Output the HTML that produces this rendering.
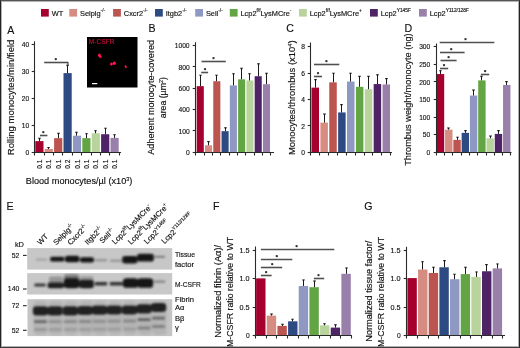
<!DOCTYPE html>
<html><head><meta charset="utf-8"><style>
html,body{margin:0;padding:0;background:#fff;width:520px;height:348px;overflow:hidden}
text{stroke:#111;stroke-width:0.15px}
text.red{stroke:#c8103c;stroke-width:0.1px}
.frame{position:absolute;left:0;top:0;width:518px;height:346px;border:1px solid #222;border-top-color:#555;border-bottom-color:#3a3a3a;box-shadow:inset 0 0 0 1px rgba(0,0,0,0.3);pointer-events:none}
</style></head><body>
<svg width="520" height="348" viewBox="0 0 520 348" style="display:block;will-change:transform" font-family='"Liberation Sans", sans-serif'><defs><filter id="bl" x="-50%" y="-50%" width="200%" height="200%"><feGaussianBlur stdDeviation="0.9"/></filter><filter id="bl2" x="-50%" y="-50%" width="200%" height="200%"><feGaussianBlur stdDeviation="0.5"/></filter></defs><rect x="0" y="0" width="520" height="348" fill="#fff"/><rect x="41" y="9" width="7.8" height="7.6" fill="#a5002e"/><text x="51.7" y="15.7" font-size="7.4" fill="#111">WT<tspan dy="-3.6" font-size="4.8"></tspan></text><rect x="69.3" y="9" width="7.8" height="7.6" fill="#d68c80"/><text x="80" y="15.7" font-size="7.4" fill="#111">Selplg<tspan dy="-3.6" font-size="4.8">-/-</tspan></text><rect x="113.1" y="9" width="7.8" height="7.6" fill="#bc5450"/><text x="123.8" y="15.7" font-size="7.4" fill="#111">Cxcr2<tspan dy="-3.6" font-size="4.8">-/-</tspan></text><rect x="155" y="9" width="7.8" height="7.6" fill="#2d4a82"/><text x="165.7" y="15.7" font-size="7.4" fill="#111">Itgb2<tspan dy="-3.6" font-size="4.8">-/-</tspan></text><rect x="195.2" y="9" width="7.8" height="7.6" fill="#8f98c2"/><text x="205.9" y="15.7" font-size="7.4" fill="#111">Sell<tspan dy="-3.6" font-size="4.8">-/-</tspan></text><rect x="229.8" y="9" width="7.8" height="7.6" fill="#63a544"/><text x="240.5" y="15.7" font-size="7.4" fill="#111">Lcp2<tspan dy="-3.6" font-size="4.8">f/f</tspan><tspan dy="3.6" font-size="7.4">LysMCre</tspan><tspan dy="-3.6" font-size="4.8">-</tspan></text><rect x="299" y="9" width="7.8" height="7.6" fill="#b8d49c"/><text x="309.7" y="15.7" font-size="7.4" fill="#111">Lcp2<tspan dy="-3.6" font-size="4.8">f/f</tspan><tspan dy="3.6" font-size="7.4">LysMCre</tspan><tspan dy="-3.6" font-size="4.8">+</tspan></text><rect x="370" y="9" width="7.8" height="7.6" fill="#4f2466"/><text x="380.7" y="15.7" font-size="7.4" fill="#111">Lcp2<tspan dy="-3.6" font-size="4.8">Y145F</tspan></text><rect x="419" y="9" width="7.8" height="7.6" fill="#9980ab"/><text x="429.7" y="15.7" font-size="7.4" fill="#111">Lcp2<tspan dy="-3.6" font-size="4.8">Y112/128F</tspan></text><text x="7.2" y="33.8" font-size="10.6" text-anchor="start" fill="#111" >A</text><text x="148.6" y="31.6" font-size="10.6" text-anchor="start" fill="#111" >B</text><text x="286.2" y="32.4" font-size="10.6" text-anchor="start" fill="#111" >C</text><text x="404.6" y="32.4" font-size="10.6" text-anchor="start" fill="#111" >D</text><text x="6.6" y="209.7" font-size="10.6" text-anchor="start" fill="#111" >E</text><text x="213" y="209.7" font-size="10.6" text-anchor="start" fill="#111" >F</text><text x="364.2" y="209.8" font-size="10.6" text-anchor="start" fill="#111" >G</text><rect x="35.3" y="141.12" width="8.2" height="11.38" fill="#a5002e"/><line x1="39.5" y1="141.12" x2="39.5" y2="138.14" stroke="#1a1a1a" stroke-width="1"/><path d="M38 137.74H41L40.2 139.14H38.8Z" fill="#1a1a1a"/><rect x="44.7" y="148.98" width="8.2" height="3.52" fill="#d68c80"/><line x1="48.5" y1="148.98" x2="48.5" y2="147.35" stroke="#1a1a1a" stroke-width="1"/><path d="M47 146.95H50L49.2 148.35H47.8Z" fill="#1a1a1a"/><rect x="54.1" y="138.14" width="8.2" height="14.36" fill="#bc5450"/><line x1="58.5" y1="138.14" x2="58.5" y2="133.26" stroke="#1a1a1a" stroke-width="1"/><path d="M57 132.86H60L59.2 134.26H57.8Z" fill="#1a1a1a"/><rect x="63.5" y="73.1" width="8.2" height="79.4" fill="#2d4a82"/><line x1="67.5" y1="73.1" x2="67.5" y2="65.24" stroke="#1a1a1a" stroke-width="1"/><path d="M66 64.84H69L68.2 66.24H66.8Z" fill="#1a1a1a"/><rect x="72.9" y="135.7" width="8.2" height="16.8" fill="#8f98c2"/><line x1="76.5" y1="135.7" x2="76.5" y2="132.18" stroke="#1a1a1a" stroke-width="1"/><path d="M75 131.78H78L77.2 133.18H75.8Z" fill="#1a1a1a"/><rect x="82.3" y="138.14" width="8.2" height="14.36" fill="#63a544"/><line x1="86.5" y1="138.14" x2="86.5" y2="133.53" stroke="#1a1a1a" stroke-width="1"/><path d="M85 133.13H88L87.2 134.53H85.8Z" fill="#1a1a1a"/><rect x="91.7" y="133.26" width="8.2" height="19.24" fill="#b8d49c"/><line x1="95.5" y1="133.26" x2="95.5" y2="130.55" stroke="#1a1a1a" stroke-width="1"/><path d="M94 130.15H97L96.2 131.55H94.8Z" fill="#1a1a1a"/><rect x="101.1" y="134.21" width="8.2" height="18.29" fill="#4f2466"/><line x1="105.5" y1="134.21" x2="105.5" y2="128.11" stroke="#1a1a1a" stroke-width="1"/><path d="M104 127.71H107L106.2 129.11H104.8Z" fill="#1a1a1a"/><rect x="110.5" y="137.87" width="8.2" height="14.63" fill="#9980ab"/><line x1="114.5" y1="137.87" x2="114.5" y2="134.61" stroke="#1a1a1a" stroke-width="1"/><path d="M113 134.21H116L115.2 135.61H113.8Z" fill="#1a1a1a"/><line x1="34.5" y1="41.3" x2="34.5" y2="153" stroke="#2a2a2a" stroke-width="1.1"/><line x1="34" y1="152.5" x2="121" y2="152.5" stroke="#2a2a2a" stroke-width="1.1"/><line x1="31.7" y1="152.5" x2="34.5" y2="152.5" stroke="#2a2a2a" stroke-width="1.1"/><text x="29.2" y="155.2" font-size="7.6" text-anchor="end" fill="#111" textLength="3.72" lengthAdjust="spacingAndGlyphs" >0</text><line x1="31.7" y1="125.5" x2="34.5" y2="125.5" stroke="#2a2a2a" stroke-width="1.1"/><text x="29.2" y="128.1" font-size="7.6" text-anchor="end" fill="#111" textLength="7.44" lengthAdjust="spacingAndGlyphs" >10</text><line x1="31.7" y1="98.5" x2="34.5" y2="98.5" stroke="#2a2a2a" stroke-width="1.1"/><text x="29.2" y="101" font-size="7.6" text-anchor="end" fill="#111" textLength="7.44" lengthAdjust="spacingAndGlyphs" >20</text><line x1="31.7" y1="71.5" x2="34.5" y2="71.5" stroke="#2a2a2a" stroke-width="1.1"/><text x="29.2" y="73.9" font-size="7.6" text-anchor="end" fill="#111" textLength="7.44" lengthAdjust="spacingAndGlyphs" >30</text><line x1="31.7" y1="44.5" x2="34.5" y2="44.5" stroke="#2a2a2a" stroke-width="1.1"/><text x="29.2" y="46.8" font-size="7.6" text-anchor="end" fill="#111" textLength="7.44" lengthAdjust="spacingAndGlyphs" >40</text><line x1="34.5" y1="152.5" x2="34.5" y2="155.5" stroke="#2a2a2a" stroke-width="1.1"/><line x1="44.5" y1="152.5" x2="44.5" y2="155.5" stroke="#2a2a2a" stroke-width="1.1"/><line x1="53.5" y1="152.5" x2="53.5" y2="155.5" stroke="#2a2a2a" stroke-width="1.1"/><line x1="62.5" y1="152.5" x2="62.5" y2="155.5" stroke="#2a2a2a" stroke-width="1.1"/><line x1="72.5" y1="152.5" x2="72.5" y2="155.5" stroke="#2a2a2a" stroke-width="1.1"/><line x1="81.5" y1="152.5" x2="81.5" y2="155.5" stroke="#2a2a2a" stroke-width="1.1"/><line x1="91.5" y1="152.5" x2="91.5" y2="155.5" stroke="#2a2a2a" stroke-width="1.1"/><line x1="100.5" y1="152.5" x2="100.5" y2="155.5" stroke="#2a2a2a" stroke-width="1.1"/><line x1="109.5" y1="152.5" x2="109.5" y2="155.5" stroke="#2a2a2a" stroke-width="1.1"/><line x1="119.5" y1="152.5" x2="119.5" y2="155.5" stroke="#2a2a2a" stroke-width="1.1"/><text x="13.6" y="97.4" font-size="8.2" text-anchor="middle" fill="#111" textLength="115.5" lengthAdjust="spacingAndGlyphs" transform="rotate(-90 13.6 97.4)" >Rolling monocytes/min/field</text><text x="42" y="164.2" font-size="7.6" text-anchor="middle" fill="#111" textLength="9.2" lengthAdjust="spacingAndGlyphs" transform="rotate(-90 42 164.2)" >0.1</text><text x="51.4" y="164.2" font-size="7.6" text-anchor="middle" fill="#111" textLength="9.2" lengthAdjust="spacingAndGlyphs" transform="rotate(-90 51.4 164.2)" >0.1</text><text x="60.8" y="164.2" font-size="7.6" text-anchor="middle" fill="#111" textLength="9.2" lengthAdjust="spacingAndGlyphs" transform="rotate(-90 60.8 164.2)" >0.1</text><text x="70.2" y="164.2" font-size="7.6" text-anchor="middle" fill="#111" textLength="9.2" lengthAdjust="spacingAndGlyphs" transform="rotate(-90 70.2 164.2)" >0.2</text><text x="79.6" y="164.2" font-size="7.6" text-anchor="middle" fill="#111" textLength="9.2" lengthAdjust="spacingAndGlyphs" transform="rotate(-90 79.6 164.2)" >0.1</text><text x="89" y="164.2" font-size="7.6" text-anchor="middle" fill="#111" textLength="9.2" lengthAdjust="spacingAndGlyphs" transform="rotate(-90 89 164.2)" >0.1</text><text x="98.4" y="164.2" font-size="7.6" text-anchor="middle" fill="#111" textLength="9.2" lengthAdjust="spacingAndGlyphs" transform="rotate(-90 98.4 164.2)" >0.1</text><text x="107.8" y="164.2" font-size="7.6" text-anchor="middle" fill="#111" textLength="9.2" lengthAdjust="spacingAndGlyphs" transform="rotate(-90 107.8 164.2)" >0.1</text><text x="117.2" y="164.2" font-size="7.6" text-anchor="middle" fill="#111" textLength="9.2" lengthAdjust="spacingAndGlyphs" transform="rotate(-90 117.2 164.2)" >0.1</text><text x="25.8" y="184.2" font-size="8.8" fill="#111" textLength="106.5" lengthAdjust="spacingAndGlyphs">Blood monocytes/µl (x10<tspan dy="-3" font-size="5.2">3</tspan><tspan dy="3">)</tspan></text><line x1="40" y1="135.5" x2="47.4" y2="135.5" stroke="#505050" stroke-width="1.6"/><circle cx="43.3" cy="132.1" r="1.2" fill="#333"/><line x1="44.2" y1="62.5" x2="68" y2="62.5" stroke="#505050" stroke-width="1.6"/><line x1="68" y1="62" x2="68" y2="65.5" stroke="#333" stroke-width="1"/><circle cx="55.8" cy="59.1" r="1.2" fill="#333"/><rect x="87" y="37" width="50.5" height="50.5" fill="#000"/><text x="88.7" y="44" font-size="6.4" text-anchor="start" fill="#c8103c" textLength="25.8" lengthAdjust="spacingAndGlyphs" class="red">M-CSFR</text><g fill="#ff1450" filter="url(#bl2)"><ellipse cx="99.3" cy="55.3" rx="1.4" ry="1.7"/><ellipse cx="100.4" cy="56.7" rx="1.2" ry="1.3"/><ellipse cx="111.4" cy="63.9" rx="1.4" ry="1.5"/><ellipse cx="114.3" cy="63.3" rx="1.6" ry="1.7"/><ellipse cx="125.7" cy="66.7" rx="1" ry="1.5" transform="rotate(-25 125.7 66.7)"/></g><rect x="92" y="83" width="5.3" height="1.2" fill="#fff"/><rect x="196.7" y="86.15" width="7.1" height="66.15" fill="#a5002e"/><line x1="200.5" y1="86.15" x2="200.5" y2="75.05" stroke="#1a1a1a" stroke-width="1"/><path d="M199 74.65H202L201.2 76.05H199.8Z" fill="#1a1a1a"/><rect x="204.98" y="145.26" width="7.1" height="7.04" fill="#d68c80"/><line x1="208.5" y1="145.26" x2="208.5" y2="141.42" stroke="#1a1a1a" stroke-width="1"/><path d="M207 141.02H210L209.2 142.42H207.8Z" fill="#1a1a1a"/><rect x="213.26" y="81.24" width="7.1" height="71.06" fill="#bc5450"/><line x1="216.5" y1="81.24" x2="216.5" y2="75.05" stroke="#1a1a1a" stroke-width="1"/><path d="M215 74.65H218L217.2 76.05H215.8Z" fill="#1a1a1a"/><rect x="221.54" y="131.17" width="7.1" height="21.13" fill="#2d4a82"/><line x1="225.5" y1="131.17" x2="225.5" y2="127.76" stroke="#1a1a1a" stroke-width="1"/><path d="M224 127.36H227L226.2 128.76H224.8Z" fill="#1a1a1a"/><rect x="229.82" y="85.4" width="7.1" height="66.9" fill="#8f98c2"/><line x1="233.5" y1="85.4" x2="233.5" y2="73.56" stroke="#1a1a1a" stroke-width="1"/><path d="M232 73.16H235L234.2 74.56H232.8Z" fill="#1a1a1a"/><rect x="238.1" y="79.32" width="7.1" height="72.98" fill="#63a544"/><line x1="241.5" y1="79.32" x2="241.5" y2="68.22" stroke="#1a1a1a" stroke-width="1"/><path d="M240 67.82H243L242.2 69.22H240.8Z" fill="#1a1a1a"/><rect x="246.38" y="80.49" width="7.1" height="71.81" fill="#b8d49c"/><line x1="249.5" y1="80.49" x2="249.5" y2="73.56" stroke="#1a1a1a" stroke-width="1"/><path d="M248 73.16H251L250.2 74.56H248.8Z" fill="#1a1a1a"/><rect x="254.66" y="76.22" width="7.1" height="76.08" fill="#4f2466"/><line x1="258.5" y1="76.22" x2="258.5" y2="63.63" stroke="#1a1a1a" stroke-width="1"/><path d="M257 63.23H260L259.2 64.63H257.8Z" fill="#1a1a1a"/><rect x="262.94" y="84.23" width="7.1" height="68.07" fill="#9980ab"/><line x1="266.5" y1="84.23" x2="266.5" y2="73.24" stroke="#1a1a1a" stroke-width="1"/><path d="M265 72.84H268L267.2 74.24H265.8Z" fill="#1a1a1a"/><line x1="195.5" y1="42.2" x2="195.5" y2="153" stroke="#2a2a2a" stroke-width="1.1"/><line x1="195" y1="152.5" x2="274" y2="152.5" stroke="#2a2a2a" stroke-width="1.1"/><line x1="192.7" y1="152.5" x2="195.5" y2="152.5" stroke="#2a2a2a" stroke-width="1.1"/><text x="189.6" y="155" font-size="7.6" text-anchor="end" fill="#111" textLength="3.72" lengthAdjust="spacingAndGlyphs" >0</text><line x1="192.7" y1="130.5" x2="195.5" y2="130.5" stroke="#2a2a2a" stroke-width="1.1"/><text x="189.6" y="133.66" font-size="7.6" text-anchor="end" fill="#111" textLength="11.16" lengthAdjust="spacingAndGlyphs" >100</text><line x1="192.7" y1="109.5" x2="195.5" y2="109.5" stroke="#2a2a2a" stroke-width="1.1"/><text x="189.6" y="112.32" font-size="7.6" text-anchor="end" fill="#111" textLength="11.16" lengthAdjust="spacingAndGlyphs" >400</text><line x1="192.7" y1="88.5" x2="195.5" y2="88.5" stroke="#2a2a2a" stroke-width="1.1"/><text x="189.6" y="90.98" font-size="7.6" text-anchor="end" fill="#111" textLength="11.16" lengthAdjust="spacingAndGlyphs" >600</text><line x1="192.7" y1="66.5" x2="195.5" y2="66.5" stroke="#2a2a2a" stroke-width="1.1"/><text x="189.6" y="69.64" font-size="7.6" text-anchor="end" fill="#111" textLength="11.16" lengthAdjust="spacingAndGlyphs" >800</text><line x1="192.7" y1="45.5" x2="195.5" y2="45.5" stroke="#2a2a2a" stroke-width="1.1"/><text x="189.6" y="48.3" font-size="7.6" text-anchor="end" fill="#111" textLength="14.87" lengthAdjust="spacingAndGlyphs" >1000</text><line x1="195.5" y1="152.5" x2="195.5" y2="155.5" stroke="#2a2a2a" stroke-width="1.1"/><line x1="204.5" y1="152.5" x2="204.5" y2="155.5" stroke="#2a2a2a" stroke-width="1.1"/><line x1="212.5" y1="152.5" x2="212.5" y2="155.5" stroke="#2a2a2a" stroke-width="1.1"/><line x1="220.5" y1="152.5" x2="220.5" y2="155.5" stroke="#2a2a2a" stroke-width="1.1"/><line x1="229.5" y1="152.5" x2="229.5" y2="155.5" stroke="#2a2a2a" stroke-width="1.1"/><line x1="237.5" y1="152.5" x2="237.5" y2="155.5" stroke="#2a2a2a" stroke-width="1.1"/><line x1="245.5" y1="152.5" x2="245.5" y2="155.5" stroke="#2a2a2a" stroke-width="1.1"/><line x1="254.5" y1="152.5" x2="254.5" y2="155.5" stroke="#2a2a2a" stroke-width="1.1"/><line x1="262.5" y1="152.5" x2="262.5" y2="155.5" stroke="#2a2a2a" stroke-width="1.1"/><line x1="270.5" y1="152.5" x2="270.5" y2="155.5" stroke="#2a2a2a" stroke-width="1.1"/><text x="154.3" y="97.3" font-size="8.2" text-anchor="middle" fill="#111" textLength="115" lengthAdjust="spacingAndGlyphs" transform="rotate(-90 154.3 97.3)" >Adherent monocyte-covered</text><text x="166" y="97.7" font-size="8.2" fill="#111" text-anchor="middle" transform="rotate(-90 166 97.7)" textLength="41" lengthAdjust="spacingAndGlyphs">area (µm<tspan dy="-3" font-size="5">2</tspan><tspan dy="3">)</tspan></text><line x1="201.5" y1="61.5" x2="225.8" y2="61.5" stroke="#505050" stroke-width="1.6"/><circle cx="213.5" cy="58.1" r="1.2" fill="#333"/><line x1="201.2" y1="72.5" x2="208.1" y2="72.5" stroke="#505050" stroke-width="1.6"/><circle cx="205" cy="69.1" r="1.2" fill="#333"/><rect x="311.5" y="87.62" width="7.5" height="64.68" fill="#a5002e"/><line x1="315.5" y1="87.62" x2="315.5" y2="79.44" stroke="#1a1a1a" stroke-width="1"/><path d="M314 79.04H317L316.2 80.44H314.8Z" fill="#1a1a1a"/><rect x="320.38" y="122.6" width="7.5" height="29.7" fill="#d68c80"/><line x1="324.5" y1="122.6" x2="324.5" y2="114.02" stroke="#1a1a1a" stroke-width="1"/><path d="M323 113.62H326L325.2 115.02H323.8Z" fill="#1a1a1a"/><rect x="329.26" y="82.34" width="7.5" height="69.96" fill="#bc5450"/><line x1="333.5" y1="82.34" x2="333.5" y2="73.1" stroke="#1a1a1a" stroke-width="1"/><path d="M332 72.7H335L334.2 74.1H332.8Z" fill="#1a1a1a"/><rect x="338.14" y="112.44" width="7.5" height="39.86" fill="#2d4a82"/><line x1="341.5" y1="112.44" x2="341.5" y2="104.52" stroke="#1a1a1a" stroke-width="1"/><path d="M340 104.12H343L342.2 105.52H340.8Z" fill="#1a1a1a"/><rect x="347.02" y="81.55" width="7.5" height="70.75" fill="#8f98c2"/><line x1="350.5" y1="81.55" x2="350.5" y2="73.1" stroke="#1a1a1a" stroke-width="1"/><path d="M349 72.7H352L351.2 74.1H349.8Z" fill="#1a1a1a"/><rect x="355.9" y="86.83" width="7.5" height="65.47" fill="#63a544"/><line x1="359.5" y1="86.83" x2="359.5" y2="76.27" stroke="#1a1a1a" stroke-width="1"/><path d="M358 75.87H361L360.2 77.27H358.8Z" fill="#1a1a1a"/><rect x="364.78" y="89.2" width="7.5" height="63.1" fill="#b8d49c"/><line x1="368.5" y1="89.2" x2="368.5" y2="76.27" stroke="#1a1a1a" stroke-width="1"/><path d="M367 75.87H370L369.2 77.27H367.8Z" fill="#1a1a1a"/><rect x="373.66" y="84.06" width="7.5" height="68.24" fill="#4f2466"/><line x1="377.5" y1="84.06" x2="377.5" y2="74.68" stroke="#1a1a1a" stroke-width="1"/><path d="M376 74.28H379L378.2 75.68H376.8Z" fill="#1a1a1a"/><rect x="382.54" y="84.45" width="7.5" height="67.85" fill="#9980ab"/><line x1="386.5" y1="84.45" x2="386.5" y2="78.38" stroke="#1a1a1a" stroke-width="1"/><path d="M385 77.98H388L387.2 79.38H385.8Z" fill="#1a1a1a"/><line x1="310.5" y1="42.5" x2="310.5" y2="153" stroke="#2a2a2a" stroke-width="1.1"/><line x1="310" y1="152.5" x2="392" y2="152.5" stroke="#2a2a2a" stroke-width="1.1"/><line x1="307.7" y1="152.5" x2="310.5" y2="152.5" stroke="#2a2a2a" stroke-width="1.1"/><text x="304.9" y="155" font-size="7.6" text-anchor="end" fill="#111" textLength="3.72" lengthAdjust="spacingAndGlyphs" >0</text><line x1="307.7" y1="125.5" x2="310.5" y2="125.5" stroke="#2a2a2a" stroke-width="1.1"/><text x="304.9" y="128.6" font-size="7.6" text-anchor="end" fill="#111" textLength="3.72" lengthAdjust="spacingAndGlyphs" >2</text><line x1="307.7" y1="99.5" x2="310.5" y2="99.5" stroke="#2a2a2a" stroke-width="1.1"/><text x="304.9" y="102.2" font-size="7.6" text-anchor="end" fill="#111" textLength="3.72" lengthAdjust="spacingAndGlyphs" >4</text><line x1="307.7" y1="73.5" x2="310.5" y2="73.5" stroke="#2a2a2a" stroke-width="1.1"/><text x="304.9" y="75.8" font-size="7.6" text-anchor="end" fill="#111" textLength="3.72" lengthAdjust="spacingAndGlyphs" >6</text><line x1="307.7" y1="46.5" x2="310.5" y2="46.5" stroke="#2a2a2a" stroke-width="1.1"/><text x="304.9" y="49.4" font-size="7.6" text-anchor="end" fill="#111" textLength="3.72" lengthAdjust="spacingAndGlyphs" >8</text><line x1="310.5" y1="152.5" x2="310.5" y2="155.5" stroke="#2a2a2a" stroke-width="1.1"/><line x1="319.5" y1="152.5" x2="319.5" y2="155.5" stroke="#2a2a2a" stroke-width="1.1"/><line x1="328.5" y1="152.5" x2="328.5" y2="155.5" stroke="#2a2a2a" stroke-width="1.1"/><line x1="337.5" y1="152.5" x2="337.5" y2="155.5" stroke="#2a2a2a" stroke-width="1.1"/><line x1="346.5" y1="152.5" x2="346.5" y2="155.5" stroke="#2a2a2a" stroke-width="1.1"/><line x1="355.5" y1="152.5" x2="355.5" y2="155.5" stroke="#2a2a2a" stroke-width="1.1"/><line x1="364.5" y1="152.5" x2="364.5" y2="155.5" stroke="#2a2a2a" stroke-width="1.1"/><line x1="372.5" y1="152.5" x2="372.5" y2="155.5" stroke="#2a2a2a" stroke-width="1.1"/><line x1="381.5" y1="152.5" x2="381.5" y2="155.5" stroke="#2a2a2a" stroke-width="1.1"/><line x1="390.5" y1="152.5" x2="390.5" y2="155.5" stroke="#2a2a2a" stroke-width="1.1"/><text x="294.7" y="97.7" font-size="8.2" fill="#111" text-anchor="middle" transform="rotate(-90 294.7 97.7)" textLength="114.5" lengthAdjust="spacingAndGlyphs">Monocytes/thrombus (x10<tspan dy="-3" font-size="5">4</tspan><tspan dy="3">)</tspan></text><line x1="314" y1="64.5" x2="339.3" y2="64.5" stroke="#505050" stroke-width="1.6"/><circle cx="326.4" cy="61.1" r="1.2" fill="#333"/><line x1="314" y1="76.5" x2="322" y2="76.5" stroke="#505050" stroke-width="1.6"/><circle cx="318" cy="73.1" r="1.2" fill="#333"/><rect x="436.8" y="74.06" width="7.4" height="78.14" fill="#a5002e"/><line x1="440.5" y1="74.06" x2="440.5" y2="70.54" stroke="#1a1a1a" stroke-width="1"/><path d="M439 70.14H442L441.2 71.54H439.8Z" fill="#1a1a1a"/><rect x="445.08" y="129.67" width="7.4" height="22.53" fill="#d68c80"/><line x1="448.5" y1="129.67" x2="448.5" y2="127.91" stroke="#1a1a1a" stroke-width="1"/><path d="M447 127.51H450L449.2 128.91H447.8Z" fill="#1a1a1a"/><rect x="453.36" y="139.88" width="7.4" height="12.32" fill="#bc5450"/><line x1="457.5" y1="139.88" x2="457.5" y2="137.06" stroke="#1a1a1a" stroke-width="1"/><path d="M456 136.66H459L458.2 138.06H456.8Z" fill="#1a1a1a"/><rect x="461.64" y="132.84" width="7.4" height="19.36" fill="#2d4a82"/><line x1="465.5" y1="132.84" x2="465.5" y2="130.38" stroke="#1a1a1a" stroke-width="1"/><path d="M464 129.98H467L466.2 131.38H464.8Z" fill="#1a1a1a"/><rect x="469.92" y="95.53" width="7.4" height="56.67" fill="#8f98c2"/><line x1="473.5" y1="95.53" x2="473.5" y2="89.9" stroke="#1a1a1a" stroke-width="1"/><path d="M472 89.5H475L474.2 90.9H472.8Z" fill="#1a1a1a"/><rect x="478.2" y="80.39" width="7.4" height="71.81" fill="#63a544"/><line x1="481.5" y1="80.39" x2="481.5" y2="76.17" stroke="#1a1a1a" stroke-width="1"/><path d="M480 75.77H483L482.2 77.17H480.8Z" fill="#1a1a1a"/><rect x="486.48" y="138.3" width="7.4" height="13.9" fill="#b8d49c"/><line x1="490.5" y1="138.3" x2="490.5" y2="136.01" stroke="#1a1a1a" stroke-width="1"/><path d="M489 135.61H492L491.2 137.01H489.8Z" fill="#1a1a1a"/><rect x="494.76" y="133.9" width="7.4" height="18.3" fill="#4f2466"/><line x1="498.5" y1="133.9" x2="498.5" y2="130.38" stroke="#1a1a1a" stroke-width="1"/><path d="M497 129.98H500L499.2 131.38H497.8Z" fill="#1a1a1a"/><rect x="503.04" y="84.97" width="7.4" height="67.23" fill="#9980ab"/><line x1="506.5" y1="84.97" x2="506.5" y2="81.45" stroke="#1a1a1a" stroke-width="1"/><path d="M505 81.05H508L507.2 82.45H505.8Z" fill="#1a1a1a"/><line x1="436.5" y1="43.5" x2="436.5" y2="153" stroke="#2a2a2a" stroke-width="1.1"/><line x1="436" y1="152.5" x2="511.5" y2="152.5" stroke="#2a2a2a" stroke-width="1.1"/><line x1="433.7" y1="152.5" x2="436.5" y2="152.5" stroke="#2a2a2a" stroke-width="1.1"/><text x="430.3" y="154.9" font-size="7.6" text-anchor="end" fill="#111" textLength="3.72" lengthAdjust="spacingAndGlyphs" >0</text><line x1="433.7" y1="134.5" x2="436.5" y2="134.5" stroke="#2a2a2a" stroke-width="1.1"/><text x="430.3" y="137.3" font-size="7.6" text-anchor="end" fill="#111" textLength="7.44" lengthAdjust="spacingAndGlyphs" >50</text><line x1="433.7" y1="117.5" x2="436.5" y2="117.5" stroke="#2a2a2a" stroke-width="1.1"/><text x="430.3" y="119.7" font-size="7.6" text-anchor="end" fill="#111" textLength="11.16" lengthAdjust="spacingAndGlyphs" >100</text><line x1="433.7" y1="99.5" x2="436.5" y2="99.5" stroke="#2a2a2a" stroke-width="1.1"/><text x="430.3" y="102.1" font-size="7.6" text-anchor="end" fill="#111" textLength="11.16" lengthAdjust="spacingAndGlyphs" >150</text><line x1="433.7" y1="81.5" x2="436.5" y2="81.5" stroke="#2a2a2a" stroke-width="1.1"/><text x="430.3" y="84.5" font-size="7.6" text-anchor="end" fill="#111" textLength="11.16" lengthAdjust="spacingAndGlyphs" >200</text><line x1="433.7" y1="64.5" x2="436.5" y2="64.5" stroke="#2a2a2a" stroke-width="1.1"/><text x="430.3" y="66.9" font-size="7.6" text-anchor="end" fill="#111" textLength="11.16" lengthAdjust="spacingAndGlyphs" >250</text><line x1="433.7" y1="46.5" x2="436.5" y2="46.5" stroke="#2a2a2a" stroke-width="1.1"/><text x="430.3" y="49.3" font-size="7.6" text-anchor="end" fill="#111" textLength="11.16" lengthAdjust="spacingAndGlyphs" >300</text><line x1="436.5" y1="152.5" x2="436.5" y2="155.5" stroke="#2a2a2a" stroke-width="1.1"/><line x1="444.5" y1="152.5" x2="444.5" y2="155.5" stroke="#2a2a2a" stroke-width="1.1"/><line x1="452.5" y1="152.5" x2="452.5" y2="155.5" stroke="#2a2a2a" stroke-width="1.1"/><line x1="461.5" y1="152.5" x2="461.5" y2="155.5" stroke="#2a2a2a" stroke-width="1.1"/><line x1="469.5" y1="152.5" x2="469.5" y2="155.5" stroke="#2a2a2a" stroke-width="1.1"/><line x1="477.5" y1="152.5" x2="477.5" y2="155.5" stroke="#2a2a2a" stroke-width="1.1"/><line x1="486.5" y1="152.5" x2="486.5" y2="155.5" stroke="#2a2a2a" stroke-width="1.1"/><line x1="494.5" y1="152.5" x2="494.5" y2="155.5" stroke="#2a2a2a" stroke-width="1.1"/><line x1="502.5" y1="152.5" x2="502.5" y2="155.5" stroke="#2a2a2a" stroke-width="1.1"/><line x1="510.5" y1="152.5" x2="510.5" y2="155.5" stroke="#2a2a2a" stroke-width="1.1"/><text x="410.7" y="99.6" font-size="8.2" text-anchor="middle" fill="#111" textLength="132.5" lengthAdjust="spacingAndGlyphs" transform="rotate(-90 410.7 99.6)" >Thrombus weight/monocyte (ng)</text><line x1="439.7" y1="42.5" x2="494.3" y2="42.5" stroke="#505050" stroke-width="1.6"/><circle cx="465.5" cy="39.1" r="1.2" fill="#333"/><line x1="440" y1="52.5" x2="464.6" y2="52.5" stroke="#505050" stroke-width="1.6"/><circle cx="451.2" cy="49.1" r="1.2" fill="#333"/><line x1="440.5" y1="60.5" x2="456.6" y2="60.5" stroke="#505050" stroke-width="1.6"/><circle cx="448.6" cy="57.1" r="1.2" fill="#333"/><line x1="440" y1="68.5" x2="448.2" y2="68.5" stroke="#505050" stroke-width="1.6"/><circle cx="444" cy="65.1" r="1.2" fill="#333"/><line x1="480.9" y1="74.5" x2="489.2" y2="74.5" stroke="#505050" stroke-width="1.6"/><circle cx="485.1" cy="71.1" r="1.2" fill="#333"/><rect x="256.1" y="278.37" width="9.4" height="57.18" fill="#a5002e"/><rect x="266.76" y="315.63" width="9.4" height="19.92" fill="#d68c80"/><line x1="271.5" y1="315.63" x2="271.5" y2="313.93" stroke="#1a1a1a" stroke-width="1"/><path d="M270 313.53H273L272.2 314.93H270.8Z" fill="#1a1a1a"/><rect x="277.42" y="325.88" width="9.4" height="9.67" fill="#bc5450"/><line x1="282.5" y1="325.88" x2="282.5" y2="324.17" stroke="#1a1a1a" stroke-width="1"/><path d="M281 323.77H284L283.2 325.17H281.8Z" fill="#1a1a1a"/><rect x="288.08" y="321.32" width="9.4" height="14.23" fill="#2d4a82"/><line x1="292.5" y1="321.32" x2="292.5" y2="319.05" stroke="#1a1a1a" stroke-width="1"/><path d="M291 318.65H294L293.2 320.05H291.8Z" fill="#1a1a1a"/><rect x="298.74" y="286.05" width="9.4" height="49.5" fill="#8f98c2"/><line x1="303.5" y1="286.05" x2="303.5" y2="279.79" stroke="#1a1a1a" stroke-width="1"/><path d="M302 279.39H305L304.2 280.79H302.8Z" fill="#1a1a1a"/><rect x="309.4" y="287.19" width="9.4" height="48.37" fill="#63a544"/><line x1="314.5" y1="287.19" x2="314.5" y2="280.93" stroke="#1a1a1a" stroke-width="1"/><path d="M313 280.53H316L315.2 281.93H313.8Z" fill="#1a1a1a"/><rect x="320.06" y="325.31" width="9.4" height="10.24" fill="#b8d49c"/><line x1="324.5" y1="325.31" x2="324.5" y2="323.6" stroke="#1a1a1a" stroke-width="1"/><path d="M323 323.2H326L325.2 324.6H323.8Z" fill="#1a1a1a"/><rect x="330.72" y="327.58" width="9.4" height="7.97" fill="#4f2466"/><line x1="335.5" y1="327.58" x2="335.5" y2="324.74" stroke="#1a1a1a" stroke-width="1"/><path d="M334 324.34H337L336.2 325.74H334.8Z" fill="#1a1a1a"/><rect x="341.38" y="273.81" width="9.4" height="61.74" fill="#9980ab"/><line x1="346.5" y1="273.81" x2="346.5" y2="267.84" stroke="#1a1a1a" stroke-width="1"/><path d="M345 267.44H348L347.2 268.84H345.8Z" fill="#1a1a1a"/><line x1="255.5" y1="246.5" x2="255.5" y2="336" stroke="#2a2a2a" stroke-width="1.1"/><line x1="255" y1="335.5" x2="352" y2="335.5" stroke="#2a2a2a" stroke-width="1.1"/><line x1="252.7" y1="335.5" x2="255.5" y2="335.5" stroke="#2a2a2a" stroke-width="1.1"/><text x="249.6" y="338.25" font-size="7.6" text-anchor="end" fill="#111" textLength="3.72" lengthAdjust="spacingAndGlyphs" >0</text><line x1="252.7" y1="307.5" x2="255.5" y2="307.5" stroke="#2a2a2a" stroke-width="1.1"/><text x="249.6" y="309.8" font-size="7.6" text-anchor="end" fill="#111" textLength="10.11" lengthAdjust="spacingAndGlyphs" >0.5</text><line x1="252.7" y1="278.5" x2="255.5" y2="278.5" stroke="#2a2a2a" stroke-width="1.1"/><text x="249.6" y="281.35" font-size="7.6" text-anchor="end" fill="#111" textLength="10.11" lengthAdjust="spacingAndGlyphs" >1.0</text><line x1="252.7" y1="250.5" x2="255.5" y2="250.5" stroke="#2a2a2a" stroke-width="1.1"/><text x="249.6" y="252.9" font-size="7.6" text-anchor="end" fill="#111" textLength="10.11" lengthAdjust="spacingAndGlyphs" >1.5</text><line x1="255.5" y1="335.5" x2="255.5" y2="338.5" stroke="#2a2a2a" stroke-width="1.1"/><line x1="266.5" y1="335.5" x2="266.5" y2="338.5" stroke="#2a2a2a" stroke-width="1.1"/><line x1="276.5" y1="335.5" x2="276.5" y2="338.5" stroke="#2a2a2a" stroke-width="1.1"/><line x1="287.5" y1="335.5" x2="287.5" y2="338.5" stroke="#2a2a2a" stroke-width="1.1"/><line x1="298.5" y1="335.5" x2="298.5" y2="338.5" stroke="#2a2a2a" stroke-width="1.1"/><line x1="308.5" y1="335.5" x2="308.5" y2="338.5" stroke="#2a2a2a" stroke-width="1.1"/><line x1="319.5" y1="335.5" x2="319.5" y2="338.5" stroke="#2a2a2a" stroke-width="1.1"/><line x1="330.5" y1="335.5" x2="330.5" y2="338.5" stroke="#2a2a2a" stroke-width="1.1"/><line x1="340.5" y1="335.5" x2="340.5" y2="338.5" stroke="#2a2a2a" stroke-width="1.1"/><line x1="351.5" y1="335.5" x2="351.5" y2="338.5" stroke="#2a2a2a" stroke-width="1.1"/><text x="221" y="291.3" font-size="8.2" text-anchor="middle" fill="#111" textLength="93" lengthAdjust="spacingAndGlyphs" transform="rotate(-90 221 291.3)" >Normalized fibrin (Aα)/</text><text x="233" y="292" font-size="8.2" text-anchor="middle" fill="#111" textLength="110" lengthAdjust="spacingAndGlyphs" transform="rotate(-90 233 292)" >M-CSFR ratio relative to WT</text><line x1="260.9" y1="249.5" x2="334.3" y2="249.5" stroke="#505050" stroke-width="1.6"/><circle cx="296.6" cy="246.1" r="1.2" fill="#333"/><line x1="260.9" y1="259.5" x2="292.3" y2="259.5" stroke="#505050" stroke-width="1.6"/><circle cx="276.8" cy="256.1" r="1.2" fill="#333"/><line x1="260.9" y1="267.5" x2="282.2" y2="267.5" stroke="#505050" stroke-width="1.6"/><circle cx="272.2" cy="264.1" r="1.2" fill="#333"/><line x1="260.9" y1="275.5" x2="271.6" y2="275.5" stroke="#505050" stroke-width="1.6"/><circle cx="266.1" cy="272.1" r="1.2" fill="#333"/><line x1="313.9" y1="278.5" x2="324.2" y2="278.5" stroke="#505050" stroke-width="1.6"/><circle cx="318.5" cy="275.1" r="1.2" fill="#333"/><rect x="407.4" y="278.08" width="9.4" height="57.47" fill="#a5002e"/><rect x="418.06" y="269.55" width="9.4" height="66" fill="#d68c80"/><line x1="422.5" y1="269.55" x2="422.5" y2="261.58" stroke="#1a1a1a" stroke-width="1"/><path d="M421 261.18H424L423.2 262.58H421.8Z" fill="#1a1a1a"/><rect x="428.72" y="272.96" width="9.4" height="62.59" fill="#bc5450"/><line x1="433.5" y1="272.96" x2="433.5" y2="267.27" stroke="#1a1a1a" stroke-width="1"/><path d="M432 266.87H435L434.2 268.27H432.8Z" fill="#1a1a1a"/><rect x="439.38" y="267.27" width="9.4" height="68.28" fill="#2d4a82"/><line x1="444.5" y1="267.27" x2="444.5" y2="260.44" stroke="#1a1a1a" stroke-width="1"/><path d="M443 260.04H446L445.2 261.44H443.8Z" fill="#1a1a1a"/><rect x="450.04" y="279.22" width="9.4" height="56.33" fill="#8f98c2"/><line x1="454.5" y1="279.22" x2="454.5" y2="274.1" stroke="#1a1a1a" stroke-width="1"/><path d="M453 273.7H456L455.2 275.1H453.8Z" fill="#1a1a1a"/><rect x="460.7" y="274.1" width="9.4" height="61.45" fill="#63a544"/><line x1="465.5" y1="274.1" x2="465.5" y2="267.27" stroke="#1a1a1a" stroke-width="1"/><path d="M464 266.87H467L466.2 268.27H464.8Z" fill="#1a1a1a"/><rect x="471.36" y="276.94" width="9.4" height="58.61" fill="#b8d49c"/><line x1="476.5" y1="276.94" x2="476.5" y2="271.82" stroke="#1a1a1a" stroke-width="1"/><path d="M475 271.42H478L477.2 272.82H475.8Z" fill="#1a1a1a"/><rect x="482.02" y="271.25" width="9.4" height="64.3" fill="#4f2466"/><line x1="486.5" y1="271.25" x2="486.5" y2="264.43" stroke="#1a1a1a" stroke-width="1"/><path d="M485 264.03H488L487.2 265.43H485.8Z" fill="#1a1a1a"/><rect x="492.68" y="268.41" width="9.4" height="67.14" fill="#9980ab"/><line x1="497.5" y1="268.41" x2="497.5" y2="263.86" stroke="#1a1a1a" stroke-width="1"/><path d="M496 263.46H499L498.2 264.86H496.8Z" fill="#1a1a1a"/><line x1="406.5" y1="246.8" x2="406.5" y2="336" stroke="#2a2a2a" stroke-width="1.1"/><line x1="406" y1="335.5" x2="505" y2="335.5" stroke="#2a2a2a" stroke-width="1.1"/><line x1="403.7" y1="335.5" x2="406.5" y2="335.5" stroke="#2a2a2a" stroke-width="1.1"/><text x="400.6" y="338.25" font-size="7.6" text-anchor="end" fill="#111" textLength="3.72" lengthAdjust="spacingAndGlyphs" >0</text><line x1="403.7" y1="307.5" x2="406.5" y2="307.5" stroke="#2a2a2a" stroke-width="1.1"/><text x="400.6" y="309.8" font-size="7.6" text-anchor="end" fill="#111" textLength="10.11" lengthAdjust="spacingAndGlyphs" >0.5</text><line x1="403.7" y1="278.5" x2="406.5" y2="278.5" stroke="#2a2a2a" stroke-width="1.1"/><text x="400.6" y="281.35" font-size="7.6" text-anchor="end" fill="#111" textLength="10.11" lengthAdjust="spacingAndGlyphs" >1.0</text><line x1="403.7" y1="250.5" x2="406.5" y2="250.5" stroke="#2a2a2a" stroke-width="1.1"/><text x="400.6" y="252.9" font-size="7.6" text-anchor="end" fill="#111" textLength="10.11" lengthAdjust="spacingAndGlyphs" >1.5</text><line x1="406.5" y1="335.5" x2="406.5" y2="338.5" stroke="#2a2a2a" stroke-width="1.1"/><line x1="417.5" y1="335.5" x2="417.5" y2="338.5" stroke="#2a2a2a" stroke-width="1.1"/><line x1="428.5" y1="335.5" x2="428.5" y2="338.5" stroke="#2a2a2a" stroke-width="1.1"/><line x1="438.5" y1="335.5" x2="438.5" y2="338.5" stroke="#2a2a2a" stroke-width="1.1"/><line x1="449.5" y1="335.5" x2="449.5" y2="338.5" stroke="#2a2a2a" stroke-width="1.1"/><line x1="460.5" y1="335.5" x2="460.5" y2="338.5" stroke="#2a2a2a" stroke-width="1.1"/><line x1="470.5" y1="335.5" x2="470.5" y2="338.5" stroke="#2a2a2a" stroke-width="1.1"/><line x1="481.5" y1="335.5" x2="481.5" y2="338.5" stroke="#2a2a2a" stroke-width="1.1"/><line x1="492.5" y1="335.5" x2="492.5" y2="338.5" stroke="#2a2a2a" stroke-width="1.1"/><line x1="502.5" y1="335.5" x2="502.5" y2="338.5" stroke="#2a2a2a" stroke-width="1.1"/><text x="372.4" y="291.2" font-size="8.2" text-anchor="middle" fill="#111" textLength="101" lengthAdjust="spacingAndGlyphs" transform="rotate(-90 372.4 291.2)" >Normalized tissue factor/</text><text x="383.7" y="292" font-size="8.2" text-anchor="middle" fill="#111" textLength="110" lengthAdjust="spacingAndGlyphs" transform="rotate(-90 383.7 292)" >M-CSFR ratio relative to WT</text><text x="14.9" y="246.6" font-size="7.4" text-anchor="start" fill="#111" >kD</text><text x="19.3" y="257.6" font-size="8" text-anchor="end" fill="#111" textLength="7.65" lengthAdjust="spacingAndGlyphs" >52</text><line x1="23" y1="255.4" x2="26.6" y2="255.4" stroke="#222" stroke-width="1.1"/><text x="19.3" y="291.2" font-size="8" text-anchor="end" fill="#111" textLength="11.48" lengthAdjust="spacingAndGlyphs" >140</text><line x1="23" y1="289" x2="26.6" y2="289" stroke="#222" stroke-width="1.1"/><text x="19.3" y="307.9" font-size="8" text-anchor="end" fill="#111" textLength="7.65" lengthAdjust="spacingAndGlyphs" >72</text><line x1="23" y1="305.7" x2="26.6" y2="305.7" stroke="#222" stroke-width="1.1"/><text x="19.3" y="332.5" font-size="8" text-anchor="end" fill="#111" textLength="7.65" lengthAdjust="spacingAndGlyphs" >52</text><line x1="23" y1="330.3" x2="26.6" y2="330.3" stroke="#222" stroke-width="1.1"/><defs><clipPath id="cb0"><rect x="27.2" y="248.1" width="145" height="21.5"/></clipPath><clipPath id="cb1"><rect x="27.2" y="273.1" width="145" height="21.4"/></clipPath><clipPath id="cb2"><rect x="27.5" y="299.2" width="144.7" height="36.9"/></clipPath></defs><rect x="27.2" y="248.1" width="145" height="21.5" fill="#c7c7c7"/><rect x="27.2" y="273.1" width="145" height="21.4" fill="#c8c8c8"/><rect x="27.5" y="299.2" width="144.7" height="36.9" fill="#c4c4c4"/><g clip-path="url(#cb0)"><g filter="url(#bl)"><rect x="36" y="258.8" width="11" height="1.8" rx="0.72" ry="0.54" fill="#141414" opacity="0.22"/><rect x="50.3" y="256.8" width="14" height="4.8" rx="1.92" ry="1.44" fill="#141414" opacity="1"/><rect x="65" y="255.7" width="14.4" height="6.6" rx="2.64" ry="1.98" fill="#141414" opacity="1"/><rect x="80.1" y="257.2" width="13.8" height="5.2" rx="2.08" ry="1.56" fill="#141414" opacity="1"/><rect x="95" y="259.3" width="12" height="2" rx="0.8" ry="0.6" fill="#141414" opacity="0.3"/><rect x="110" y="259.8" width="12" height="2" rx="0.8" ry="0.6" fill="#141414" opacity="0.28"/><rect x="122.3" y="256" width="15.2" height="7.4" rx="2.96" ry="2.22" fill="#141414" opacity="1"/><rect x="137.2" y="253.8" width="16.6" height="7.8" rx="3.12" ry="2.34" fill="#141414" opacity="1"/><rect x="154.6" y="256.1" width="10.4" height="1.4" rx="0.56" ry="0.42" fill="#141414" opacity="0.5"/></g></g><g clip-path="url(#cb1)"><g filter="url(#bl)"><rect x="49" y="276.5" width="14" height="7" rx="2.8" ry="2.1" fill="#141414" opacity="0.25"/><rect x="64" y="274.5" width="15" height="7" rx="2.8" ry="2.1" fill="#141414" opacity="0.45"/><rect x="79.5" y="276" width="14" height="6" rx="2.4" ry="1.8" fill="#141414" opacity="0.2"/><rect x="34.4" y="283.4" width="11.2" height="3.2" rx="1.28" ry="0.96" fill="#141414" opacity="0.8"/><rect x="47.6" y="282.4" width="16.4" height="5.8" rx="2.32" ry="1.74" fill="#141414" opacity="0.95"/><rect x="63.8" y="278.2" width="15.6" height="10" rx="4" ry="3" fill="#141414" opacity="1"/><rect x="79" y="279.8" width="14.8" height="8.4" rx="3.36" ry="2.52" fill="#141414" opacity="0.97"/><rect x="94.8" y="282.1" width="12.4" height="3.4" rx="1.36" ry="1.02" fill="#141414" opacity="0.85"/><rect x="109.7" y="282.1" width="13.2" height="3.4" rx="1.36" ry="1.02" fill="#141414" opacity="0.85"/><rect x="123" y="278.2" width="15.2" height="9.6" rx="3.84" ry="2.88" fill="#141414" opacity="1"/><rect x="137.3" y="278.2" width="15.8" height="9.6" rx="3.84" ry="2.88" fill="#141414" opacity="1"/><rect x="153.7" y="280.6" width="11.6" height="2.2" rx="0.88" ry="0.66" fill="#141414" opacity="0.35"/></g></g><g clip-path="url(#cb2)"><g filter="url(#bl)"><rect x="33.3" y="301" width="14.4" height="34" rx="5.76" ry="4.32" fill="#555" opacity="0.14"/><rect x="48.6" y="301" width="14.4" height="34" rx="5.76" ry="4.32" fill="#555" opacity="0.14"/><rect x="64" y="301" width="14.4" height="34" rx="5.76" ry="4.32" fill="#555" opacity="0.14"/><rect x="79.3" y="301" width="14.4" height="34" rx="5.76" ry="4.32" fill="#555" opacity="0.14"/><rect x="93.3" y="301" width="14.4" height="34" rx="5.76" ry="4.32" fill="#555" opacity="0.14"/><rect x="107.8" y="301" width="14.4" height="34" rx="5.76" ry="4.32" fill="#555" opacity="0.14"/><rect x="122.6" y="301" width="14.4" height="34" rx="5.76" ry="4.32" fill="#555" opacity="0.14"/><rect x="137.8" y="301" width="14.4" height="34" rx="5.76" ry="4.32" fill="#555" opacity="0.14"/><rect x="152.3" y="301" width="14.4" height="34" rx="5.76" ry="4.32" fill="#555" opacity="0.14"/><rect x="32.9" y="306.2" width="15.2" height="9.2" rx="3.68" ry="2.76" fill="#1c1c1c" opacity="0.97"/><rect x="47.4" y="306.2" width="15.2" height="9.2" rx="3.68" ry="2.76" fill="#1c1c1c" opacity="0.97"/><rect x="62.7" y="306.2" width="15.2" height="9.2" rx="3.68" ry="2.76" fill="#1c1c1c" opacity="0.97"/><rect x="77.4" y="305.9" width="15.2" height="9.2" rx="3.68" ry="2.76" fill="#1c1c1c" opacity="0.97"/><rect x="91.9" y="305.6" width="15.2" height="9.2" rx="3.68" ry="2.76" fill="#1c1c1c" opacity="0.97"/><rect x="106.6" y="305.4" width="15.2" height="9.2" rx="3.68" ry="2.76" fill="#1c1c1c" opacity="0.97"/><rect x="122" y="305.4" width="15.2" height="9.2" rx="3.68" ry="2.76" fill="#1c1c1c" opacity="0.97"/><rect x="136.4" y="304.2" width="15.2" height="9.2" rx="3.68" ry="2.76" fill="#1c1c1c" opacity="0.97"/><rect x="150.9" y="302.9" width="15.2" height="9.2" rx="3.68" ry="2.76" fill="#1c1c1c" opacity="0.97"/><rect x="34" y="320.3" width="13" height="2.8" rx="1.12" ry="0.84" fill="#333" opacity="0.6"/><rect x="48.5" y="320.3" width="13" height="2.8" rx="1.12" ry="0.84" fill="#333" opacity="0.3"/><rect x="63.8" y="320.3" width="13" height="2.8" rx="1.12" ry="0.84" fill="#333" opacity="0.35"/><rect x="78.5" y="320.1" width="13" height="2.8" rx="1.12" ry="0.84" fill="#333" opacity="0.35"/><rect x="93" y="319.9" width="13" height="2.8" rx="1.12" ry="0.84" fill="#333" opacity="0.3"/><rect x="107.7" y="319.8" width="13" height="2.8" rx="1.12" ry="0.84" fill="#333" opacity="0.3"/><rect x="123.1" y="319.6" width="13" height="2.8" rx="1.12" ry="0.84" fill="#333" opacity="0.35"/><rect x="137.5" y="318.2" width="13" height="2.8" rx="1.12" ry="0.84" fill="#333" opacity="0.65"/><rect x="152" y="316.8" width="13" height="2.8" rx="1.12" ry="0.84" fill="#333" opacity="0.6"/><rect x="34" y="328.1" width="13" height="3" rx="1.2" ry="0.9" fill="#444" opacity="0.25"/><rect x="48.5" y="328.1" width="13" height="3" rx="1.2" ry="0.9" fill="#444" opacity="0.2"/><rect x="63.8" y="328.1" width="13" height="3" rx="1.2" ry="0.9" fill="#444" opacity="0.2"/><rect x="78.5" y="328" width="13" height="3" rx="1.2" ry="0.9" fill="#444" opacity="0.2"/><rect x="93" y="327.8" width="13" height="3" rx="1.2" ry="0.9" fill="#444" opacity="0.2"/><rect x="107.7" y="327.7" width="13" height="3" rx="1.2" ry="0.9" fill="#444" opacity="0.2"/><rect x="123.1" y="327.5" width="13" height="3" rx="1.2" ry="0.9" fill="#444" opacity="0.2"/><rect x="137.5" y="326.5" width="13" height="3" rx="1.2" ry="0.9" fill="#444" opacity="0.45"/><rect x="152" y="325" width="13" height="3" rx="1.2" ry="0.9" fill="#444" opacity="0.45"/></g></g><text x="175" y="257.4" font-size="7.6" text-anchor="start" fill="#111" textLength="20" lengthAdjust="spacingAndGlyphs" >Tissue</text><text x="175" y="266.8" font-size="7.6" text-anchor="start" fill="#111" >factor</text><text x="175" y="287" font-size="7.6" text-anchor="start" fill="#111" textLength="25.8" lengthAdjust="spacingAndGlyphs" >M-CSFR</text><text x="175" y="302.1" font-size="7.6" text-anchor="start" fill="#111" >Fibrin</text><text x="175" y="310.4" font-size="7.6" text-anchor="start" fill="#111" >Aα</text><text x="175" y="320.8" font-size="7.6" text-anchor="start" fill="#111" >Bβ</text><text x="175" y="329.8" font-size="7.6" text-anchor="start" fill="#111" >γ</text><text x="40.2" y="245.2" font-size="7.6" fill="#111" transform="rotate(-45 40.2 245.2)">WT<tspan dy="-3.2" font-size="5"></tspan></text><text x="56.2" y="245.5" font-size="7.6" fill="#111" transform="rotate(-45 56.2 245.5)">Selplg<tspan dy="-3.2" font-size="5">-/-</tspan></text><text x="70.4" y="245.5" font-size="7.6" fill="#111" transform="rotate(-45 70.4 245.5)">Cxcr2<tspan dy="-3.2" font-size="5">-/-</tspan></text><text x="87.7" y="245.2" font-size="7.6" fill="#111" transform="rotate(-45 87.7 245.2)">Itgb2<tspan dy="-3.2" font-size="5">-/-</tspan></text><text x="102.5" y="243.8" font-size="7.6" fill="#111" transform="rotate(-45 102.5 243.8)">Sell<tspan dy="-3.2" font-size="5">-/-</tspan></text><text x="115" y="244.8" font-size="7.6" fill="#111" transform="rotate(-45 115 244.8)">Lcp2<tspan dy="-3.2" font-size="5">f/f</tspan><tspan dy="3.2" font-size="7.6">LysMCre</tspan><tspan dy="-3.2" font-size="5">-</tspan></text><text x="131" y="245" font-size="7.6" fill="#111" transform="rotate(-45 131 245)">Lcp2<tspan dy="-3.2" font-size="5">f/f</tspan><tspan dy="3.2" font-size="7.6">LysMCre</tspan><tspan dy="-3.2" font-size="5">+</tspan></text><text x="147" y="244.6" font-size="7.6" fill="#111" transform="rotate(-45 147 244.6)">Lcp2<tspan dy="-3.2" font-size="5">Y145F</tspan></text><text x="164.5" y="244.3" font-size="7.6" fill="#111" transform="rotate(-45 164.5 244.3)">Lcp2<tspan dy="-3.2" font-size="5">Y112/128F</tspan></text></svg>
<div class="frame"></div>
</body></html>
